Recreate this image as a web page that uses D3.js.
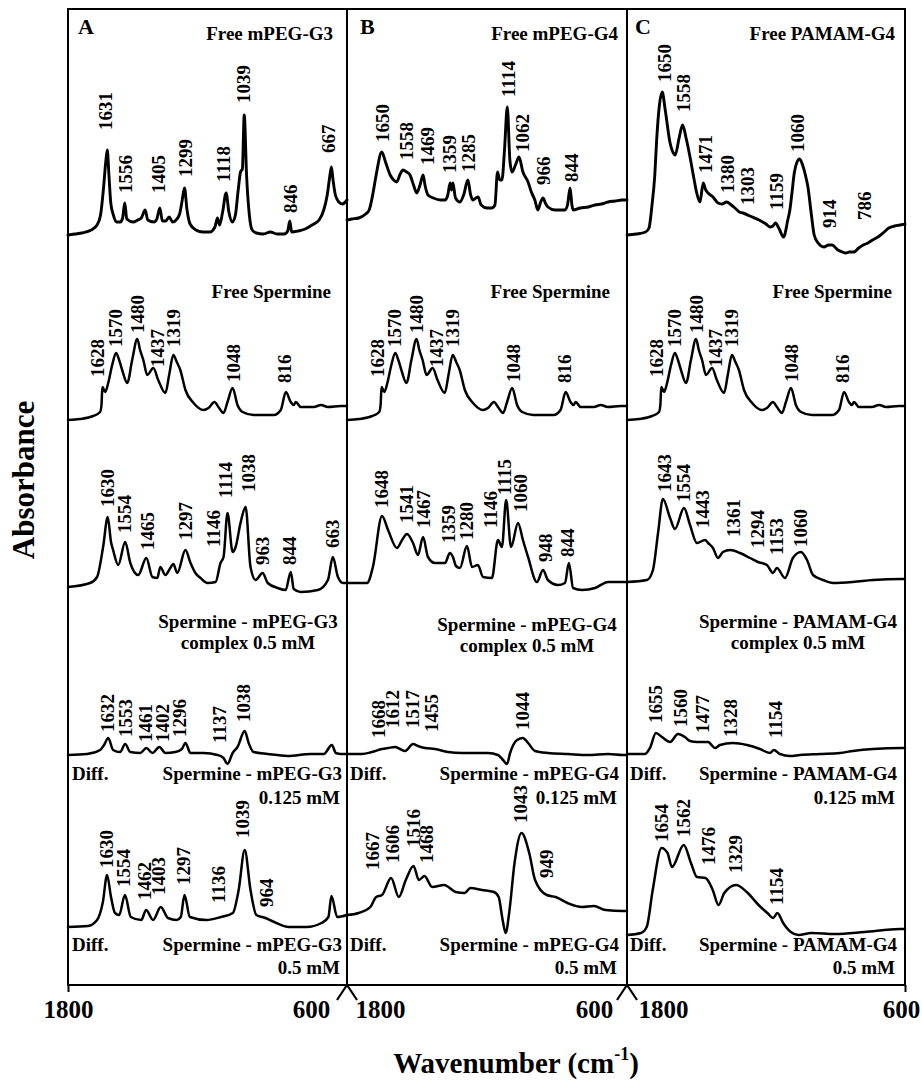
<!DOCTYPE html>
<html><head><meta charset="utf-8">
<script src="https://cdn.jsdelivr.net/npm/d3@7"></script>
<style>
body{margin:0;background:#fff;}
svg text{font-family:"Liberation Serif","Times New Roman",serif;font-weight:bold;fill:#000;}
</style></head><body>
<svg id="chart" width="922" height="1080"></svg>
<script>
// ---------------- DATA (wavenumber cm-1, absorbance a.u. above each trace baseline) ----------------
const freeMPEG_G3 = [[1800,0],[1770,.01],[1740,.02],[1700,.05],[1675,.10],[1660,.2],[1648,.45],[1638,.72],[1631,.85],[1624,.6],[1616,.32],[1605,.2],[1590,.13],[1575,.13],[1565,.17],[1556,.32],[1547,.16],[1520,.13],[1500,.15],[1485,.17],[1468,.25],[1457,.15],[1430,.13],[1418,.16],[1405,.27],[1394,.14],[1380,.14],[1365,.18],[1350,.13],[1335,.15],[1320,.21],[1310,.33],[1299,.47],[1288,.25],[1275,.11],[1250,.05],[1220,.03],[1190,.03],[1168,.08],[1157,.17],[1148,.10],[1135,.23],[1120,.42],[1108,.23],[1093,.13],[1080,.2],[1068,.45],[1058,.63],[1050,.66],[1042,1.2],[1032,.6],[1020,.2],[1008,.05],[990,.02],[960,.01],[930,.03],[900,.01],[870,.01],[855,.04],[846,.14],[838,.03],[810,.04],[780,.06],[750,.1],[720,.15],[700,.25],[685,.4],[675,.57],[667,.68],[660,.55],[650,.4],[635,.33],[620,.31],[600,.35]];
const freeMPEG_G3Peaks = [["1631",1640,1.05],["1556",1554,.42],["1405",1412,.42],["1299",1295,.58],["1118",1131,.53],["1039",1045,1.32],["846",842,.22],["667",678,.82]];

const freeMPEG_G4 = [[1800,0],[1780,.01],[1750,.02],[1720,.06],[1705,.10],[1690,.25],[1675,.45],[1651,.68],[1635,.58],[1615,.45],[1600,.40],[1587,.38],[1572,.46],[1560,.50],[1545,.48],[1530,.45],[1515,.35],[1501,.27],[1487,.35],[1474,.45],[1465,.34],[1453,.25],[1430,.22],[1400,.20],[1380,.20],[1368,.25],[1358,.37],[1352,.30],[1346,.37],[1335,.22],[1316,.18],[1300,.25],[1282,.40],[1270,.25],[1260,.20],[1248,.22],[1238,.23],[1225,.15],[1200,.12],[1180,.12],[1166,.15],[1155,.48],[1145,.40],[1136,.40],[1125,.70],[1113,1.13],[1102,.60],[1093,.48],[1078,.55],[1063,.63],[1046,.48],[1024,.38],[1010,.28],[995,.20],[982,.10],[970,.18],[960,.22],[950,.17],[939,.13],[908,.10],[866,.10],[855,.15],[844,.32],[836,.15],[831,.10],[800,.12],[765,.13],[737,.15],[710,.16],[681,.18],[650,.19],[621,.20],[600,.20]];
const freeMPEG_G4Peaks = [["1650",1646,.78],["1558",1543,.60],["1469",1457,.55],["1359",1359,.47],["1285",1281,.48],["1114",1110,1.23],["1062",1050,.68],["966",956,.35],["844",836,.38]];

const freePAMAM_G4 = [[1800,0],[1760,.01],[1720,.03],[1705,.07],[1693,.28],[1680,.60],[1672,.95],[1660,1.30],[1648,1.43],[1635,1.25],[1614,.92],[1600,.82],[1592,.80],[1575,.97],[1560,1.10],[1545,.97],[1528,.78],[1510,.55],[1499,.42],[1485,.33],[1471,.52],[1460,.45],[1450,.42],[1429,.38],[1407,.32],[1390,.31],[1370,.33],[1350,.30],[1334,.27],[1315,.23],[1299,.22],[1270,.19],[1230,.15],[1200,.11],[1183,.08],[1170,.09],[1159,.12],[1145,.07],[1124,-.02],[1106,.15],[1097,.25],[1088,.42],[1078,.62],[1066,.73],[1055,.76],[1042,.70],[1030,.60],[1019,.48],[1005,.22],[992,.0],[975,-.08],[950,-.12],[930,-.10],[915,-.10],[890,-.15],[870,-.17],[855,-.18],[840,-.17],[820,-.17],[800,-.13],[780,-.10],[760,-.08],[740,-.05],[717,-.02],[690,.03],[670,.07],[645,.09],[622,.10],[600,.11]];
const freePAMAM_G4Peaks = [["1650",1636,1.53],["1558",1558,1.23],["1471",1463,.62],["1380",1368,.42],["1303",1278,.30],["1159",1153,.25],["1060",1062,.83],["914",924,.07],["786",773,.15]];

const freeSpermine = [[1800,0],[1748,.01],[1692,.04],[1662,.08],[1656,.15],[1652,.33],[1640,.28],[1627,.37],[1610,.55],[1593,.67],[1580,.60],[1567,.50],[1545,.37],[1524,.60],[1502,.81],[1490,.70],[1476,.60],[1459,.45],[1433,.52],[1412,.40],[1381,.27],[1365,.45],[1347,.65],[1332,.58],[1317,.50],[1295,.30],[1260,.17],[1217,.10],[1196,.12],[1170,.18],[1153,.13],[1131,.07],[1114,.18],[1092,.32],[1071,.15],[1049,.08],[1002,.05],[915,.05],[885,.10],[863,.28],[842,.18],[829,.15],[820,.18],[799,.13],[743,.13],[712,.15],[682,.13],[626,.14],[600,.14]];
const freeSperminePeaks = [["1628",1671,.43],["1570",1597,.73],["1480",1502,.87],["1437",1416,.53],["1319",1347,.73],["1048",1088,.38],["816",868,.37]];

const complexG3 = [[1800,0],[1705,.04],[1675,.10],[1649,.40],[1629,.70],[1615,.45],[1606,.37],[1584,.22],[1554,.45],[1532,.24],[1498,.12],[1463,.29],[1437,.10],[1416,.09],[1403,.20],[1381,.12],[1360,.19],[1347,.23],[1330,.14],[1295,.37],[1273,.24],[1252,.14],[1230,.09],[1200,.04],[1165,.05],[1144,.24],[1131,.30],[1114,.74],[1092,.35],[1079,.40],[1058,.64],[1036,.80],[1015,.20],[993,.07],[963,.14],[941,.04],[898,-.01],[864,-.03],[842,.15],[829,-.02],[799,-.05],[725,-.03],[682,.07],[661,.30],[639,.10],[617,.04],[600,.04]];
const complexG3Peaks = [["1630",1632,.80],["1554",1558,.54],["1465",1459,.37],["1297",1295,.47],["1146",1174,.40],["1114",1122,.89],["1038",1023,.95],["963",963,.22],["844",846,.22],["663",661,.39]];

const complexG4 = [[1800,0],[1714,0],[1689,.16],[1650,.67],[1624,.53],[1586,.35],[1564,.43],[1543,.49],[1517,.40],[1496,.28],[1474,.46],[1453,.26],[1423,.20],[1380,.20],[1359,.30],[1346,.26],[1333,.17],[1316,.15],[1286,.37],[1264,.16],[1239,.18],[1217,.06],[1179,.05],[1153,.43],[1136,.36],[1118,.83],[1097,.36],[1067,.60],[1046,.43],[1024,.26],[986,.01],[960,.13],[939,.03],[896,-.02],[866,0],[849,.20],[831,-.05],[793,-.07],[737,-.05],[681,.01],[617,.01],[600,.01]];
const complexG4Peaks = [["1648",1654,.75],["1541",1543,.60],["1467",1474,.55],["1359",1367,.40],["1280",1286,.43],["1146",1187,.55],["1115",1123,.88],["1060",1058,.71],["948",951,.21],["844",853,.26]];

const complexPAMAM = [[1800,0],[1714,.02],[1688,.12],[1666,.49],[1645,.83],[1614,.64],[1593,.53],[1554,.74],[1528,.57],[1498,.39],[1463,.42],[1450,.39],[1429,.34],[1407,.24],[1386,.30],[1355,.32],[1312,.29],[1269,.24],[1235,.20],[1196,.17],[1170,.09],[1153,.14],[1118,.04],[1084,.24],[1049,.30],[1023,.22],[997,.07],[954,.02],[911,-.01],[825,0],[738,.02],[613,.03],[600,.03]];
const complexPAMAMPeaks = [["1643",1636,.90],["1554",1558,.80],["1443",1472,.54],["1361",1342,.45],["1294",1235,.34],["1153",1153,.27],["1060",1053,.35]];

const diffG3_0125 = [[1800,0],[1718,.01],[1662,.05],[1645,.10],[1627,.17],[1606,.05],[1576,.03],[1554,.11],[1532,.03],[1489,.02],[1463,.07],[1437,.02],[1407,.08],[1381,.02],[1338,.03],[1310,.06],[1295,.12],[1273,.02],[1217,.02],[1157,0],[1131,-.03],[1114,-.09],[1092,.02],[1071,.08],[1040,.24],[1023,.12],[1002,.03],[941,.01],[855,-.01],[756,.01],[700,.01],[665,.10],[648,.02],[626,.01],[600,.01]];
const diffG3_0125Peaks = [["1632",1632,.23],["1553",1554,.18],["1461",1468,.13],["1402",1394,.13],["1296",1321,.18],["1137",1148,.12],["1038",1045,.33]];

const diffG4_0125 = [[1800,0],[1736,0],[1693,.02],[1650,.05],[1624,.06],[1594,.07],[1573,.05],[1551,.03],[1517,.10],[1496,.08],[1466,.06],[1423,.05],[1367,.02],[1307,.01],[1251,.01],[1196,.01],[1153,-.01],[1131,-.06],[1114,-.10],[1101,.01],[1071,.14],[1046,.16],[1024,.11],[994,.03],[939,.01],[853,0],[767,-.01],[681,0],[617,-.01],[600,-.01]];
const diffG4_0125Peaks = [["1668",1667,.16],["1612",1603,.26],["1517",1521,.26],["1455",1436,.22],["1044",1050,.24]];

const diffPAMAM_0125 = [[1800,0],[1722,0],[1701,.06],[1675,.21],[1649,.17],[1614,.12],[1580,.20],[1550,.17],[1528,.13],[1498,.12],[1450,.12],[1420,.06],[1399,.09],[1343,.11],[1282,.09],[1226,.05],[1183,.01],[1166,.04],[1140,0],[1097,-.02],[1053,-.01],[967,0],[881,.01],[825,.03],[738,.05],[613,.06],[600,.06]];
const diffPAMAM_0125Peaks = [["1655",1675,.31],["1560",1571,.27],["1477",1476,.21],["1328",1355,.17],["1154",1161,.16]];

const diffG3_05 = [[1800,0],[1714,.01],[1675,.07],[1650,.25],[1632,.52],[1615,.30],[1598,.14],[1580,.12],[1555,.32],[1530,.10],[1485,.07],[1464,.17],[1434,.07],[1401,.20],[1370,.09],[1332,.07],[1315,.10],[1299,.32],[1276,.10],[1205,.07],[1142,.10],[1091,.14],[1066,.37],[1040,.77],[1015,.37],[990,.12],[951,.09],[913,.05],[851,0],[774,0],[710,.04],[680,.10],[667,.31],[642,.10],[600,.12]];
const diffG3_05Peaks = [["1630",1636,.59],["1554",1563,.40],["1462",1472,.27],["1403",1412,.32],["1297",1304,.42],["1136",1153,.24],["1039",1049,.89],["964",945,.20]];

const diffG4_05 = [[1800,.12],[1750,.14],[1700,.20],[1675,.30],[1650,.32],[1611,.49],[1578,.30],[1548,.47],[1515,.61],[1492,.47],[1468,.51],[1435,.40],[1384,.42],[1334,.35],[1296,.34],[1271,.39],[1221,.37],[1170,.35],[1150,.30],[1133,.07],[1120,-.06],[1105,.14],[1082,.64],[1052,.94],[1019,.74],[994,.47],[944,.32],[906,.30],[855,.24],[793,.20],[742,.21],[692,.17],[617,.16],[600,.16]];
const diffG4_05Peaks = [["1667",1689,.57],["1606",1603,.64],["1516",1517,.80],["1468",1461,.64],["1043",1058,1.04],["949",943,.49]];

const diffPAMAM_05 = [[1800,0],[1740,.02],[1715,.08],[1689,.45],[1651,.87],[1625,.82],[1606,.68],[1555,.90],[1524,.72],[1498,.58],[1461,.57],[1430,.45],[1405,.30],[1380,.42],[1329,.50],[1283,.43],[1232,.30],[1194,.22],[1169,.17],[1151,.22],[1126,.12],[1093,.03],[1060,0],[1004,.02],[902,.01],[775,.03],[623,.06],[600,.06]];
const diffPAMAM_05Peaks = [["1654",1651,.93],["1562",1554,.98],["1476",1448,.70],["1329",1330,.62],["1154",1153,.30]];

const xTicks = [1800, 600];
const panelLetters = ["A", "B", "C"];
const panelTitles = ["Free mPEG-G3", "Free mPEG-G4", "Free PAMAM-G4"];
const complexTitles = ["Spermine - mPEG-G3", "Spermine - mPEG-G4", "Spermine - PAMAM-G4"];

// ---------------- LAYOUT ----------------
const svg = d3.select("#chart");
const yTop = 9, yBottom = 985;
const y = d3.scaleLinear().domain([0, 9.76]).range([yBottom, yTop]);

const panels = [
  {x0: 68, x1: 347, offsets: [7.50, 5.65, 3.98, 2.30, 0.58],
   traces: [[freeMPEG_G3, freeMPEG_G3Peaks], [freeSpermine, freeSperminePeaks], [complexG3, complexG3Peaks], [diffG3_0125, diffG3_0125Peaks], [diffG3_05, diffG3_05Peaks]],
   letterX: 78, titleR: 333, spR: 331, cxC: 248, cBase: 628, diffX: 72, dR: 342},
  {x0: 347, x1: 627, offsets: [7.65, 5.65, 4.02, 2.31, 0.58],
   traces: [[freeMPEG_G4, freeMPEG_G4Peaks], [freeSpermine, freeSperminePeaks], [complexG4, complexG4Peaks], [diffG4_0125, diffG4_0125Peaks], [diffG4_05, diffG4_05Peaks]],
   letterX: 360, titleR: 618, spR: 610, cxC: 527, cBase: 631, diffX: 350, dR: 619},
  {x0: 627, x1: 905, offsets: [7.50, 5.65, 4.03, 2.31, 0.50],
   traces: [[freePAMAM_G4, freePAMAM_G4Peaks], [freeSpermine, freeSperminePeaks], [complexPAMAM, complexPAMAMPeaks], [diffPAMAM_0125, diffPAMAM_0125Peaks], [diffPAMAM_05, diffPAMAM_05Peaks]],
   letterX: 635, titleR: 895, spR: 892, cxC: 798, cBase: 628, diffX: 630, dR: 897}
];

panels.forEach((p, i) => {
  const xs = d3.scaleLinear().domain([1800, 600]).range([p.x0, p.x1]);
  const g = svg.append("g");
  p.traces.forEach(([data, peaks], r) => {
    const off = p.offsets[r];
    const line = d3.line().x(d => xs(d[0])).y(d => y(off + d[1])).curve(d3.curveMonotoneX);
    g.append("path").datum(data).attr("d", line)
      .attr("fill", "none").attr("stroke", "#000")
      .attr("stroke-width", r === 0 ? 2.9 : 2.5)
      .attr("stroke-linejoin", "round").attr("stroke-linecap", "round");
    peaks.forEach(([t, wn, h]) => {
      g.append("text")
        .attr("transform", `translate(${xs(wn) + 6.5},${y(off + h)}) rotate(-90)`)
        .attr("font-size", 19).text(t);
    });
  });
  // titles
  g.append("text").attr("x", p.letterX).attr("y", 34).attr("font-size", 22).text(panelLetters[i]);
  g.append("text").attr("x", p.titleR).attr("y", 40).attr("font-size", 19).attr("text-anchor", "end").text(panelTitles[i]);
  g.append("text").attr("x", p.spR).attr("y", 298).attr("font-size", 19).attr("text-anchor", "end").text("Free Spermine");
  g.append("text").attr("x", p.cxC).attr("y", p.cBase).attr("font-size", 19).attr("text-anchor", "middle").text(complexTitles[i]);
  g.append("text").attr("x", p.cxC).attr("y", p.cBase + 21).attr("font-size", 19).attr("text-anchor", "middle").text("complex 0.5 mM");
  [[780, 804, "0.125 mM"], [951, 974, "0.5 mM"]].forEach(([b1, b2, conc]) => {
    g.append("text").attr("x", p.diffX).attr("y", b1).attr("font-size", 19).text("Diff.");
    g.append("text").attr("x", p.dR).attr("y", b1).attr("font-size", 19).attr("text-anchor", "end").text(complexTitles[i]);
    g.append("text").attr("x", p.dR - 2).attr("y", b2).attr("font-size", 19).attr("text-anchor", "end").text(conc);
  });

  // axis
  const ax = svg.append("g").attr("transform", `translate(0,${yBottom})`)
    .call(d3.axisBottom(xs).tickValues(xTicks).tickSize(7).tickFormat(d3.format("d")));
  ax.select(".domain").remove();
  ax.selectAll(".tick line").attr("stroke-width", 2)
    .attr("opacity", d => ((i === 0 && d === 1800) || (i === 2 && d === 600)) ? 1 : 0);
  const shifts = [[0, -36], [33, -33], [36, -4]][i];
  ax.selectAll(".tick text")
    .attr("font-size", 25).attr("font-family", '"Liberation Serif","Times New Roman",serif')
    .attr("font-weight", "bold").attr("fill", "#000")
    .attr("y", 33).attr("dy", 0)
    .attr("dx", d => d === 1800 ? shifts[0] : shifts[1]);
});

// frame + dividers + breaks
svg.append("rect").attr("x", 68).attr("y", yTop).attr("width", 905 - 68).attr("height", yBottom - yTop)
  .attr("fill", "none").attr("stroke", "#000").attr("stroke-width", 2);
[347, 627].forEach(xb => {
  svg.append("line").attr("x1", xb).attr("x2", xb).attr("y1", yTop).attr("y2", yBottom)
    .attr("stroke", "#000").attr("stroke-width", 2);
  svg.append("path").attr("d", `M${xb - 10},${yBottom + 15}L${xb},${yBottom}L${xb + 10},${yBottom + 15}`)
    .attr("fill", "none").attr("stroke", "#000").attr("stroke-width", 2.2);
});

// axis titles
svg.append("text").attr("transform", "translate(34,480) rotate(-90)")
  .attr("text-anchor", "middle").attr("font-size", 31).text("Absorbance");
const xt = svg.append("text").attr("x", 516).attr("y", 1073).attr("text-anchor", "middle").attr("font-size", 29);
xt.append("tspan").text("Wavenumber (cm");
xt.append("tspan").attr("font-size", 18).attr("dy", -13).text("-1");
xt.append("tspan").attr("dy", 13).text(")");
</script>
</body></html>
